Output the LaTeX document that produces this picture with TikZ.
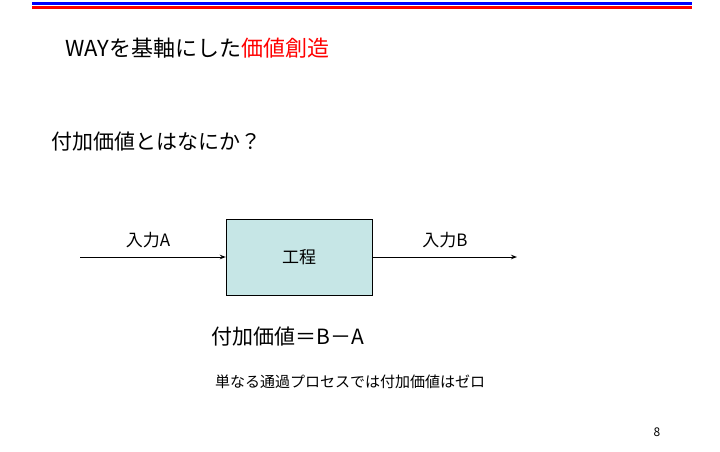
\documentclass[tikz,border=0pt]{standalone}
\usepackage{fontspec}
\setmainfont{Noto Sans CJK JP}
\usetikzlibrary{arrows.meta}
\definecolor{boxfill}{RGB}{198,230,230}
\begin{document}
\begin{tikzpicture}[x=1pt, y=-1pt, font=\fontsize{17}{20}\selectfont]
	\useasboundingbox (0,0) rectangle (720,451);
	\fill[blue] (32,2) rectangle (692,5); % header rules
	\fill[red] (32,6) rectangle (692,9);
	\node[anchor=west, font=\fontsize{22}{26}\selectfont] (title) at (62,48) {WAYを基軸にした\textcolor{red}{価値創造}};
	\node[anchor=west, font=\fontsize{21}{25}\selectfont] (q) at (48,142) {付加価値とはなにか？};
	\node[draw, fill=boxfill, minimum width=146pt, minimum height=76pt] (kotei) at (299,257) {工程};
	\coordinate (in) at (80,257);
	\coordinate (out) at (517,257);
	\draw[line width=1pt, -{Stealth[length=6pt]}] (in) -- (kotei.west);
	\draw[line width=1pt, -{Stealth[length=6pt]}] (kotei.east) -- (out);
	\node (a) at (148,240) {入力A};
	\node (b) at (445,240) {入力B};
	\node[font=\fontsize{21}{25}\selectfont] (eq) at (288,337) {付加価値＝B－A};
	\node[font=\fontsize{15}{18}\selectfont] (note) at (350,382) {単なる通過プロセスでは付加価値はゼロ};
	\node[font=\fontsize{12}{14}\selectfont] (page) at (657,432) {8};
\end{tikzpicture}
\end{document}
